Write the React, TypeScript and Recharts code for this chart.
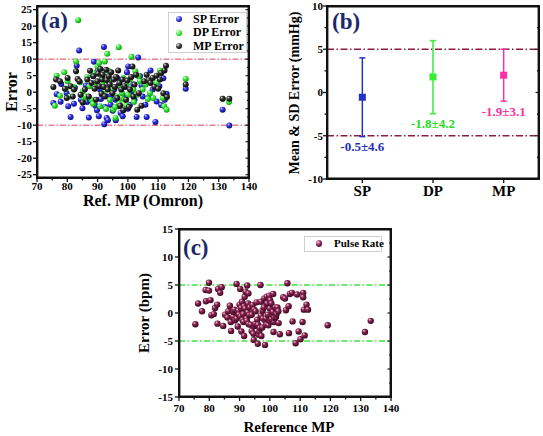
import React from 'react';
import { ScatterChart, Scatter, XAxis, YAxis, ReferenceLine, ErrorBar } from 'recharts';

const FONT = '"Liberation Serif", "Times New Roman", serif';
const INK = '#111111';

// ---------- Panel (a): errors vs Ref. MP (Omron) ----------
const spError: [number, number][] = [
  [75.4,-3.3],[76.5,-0.6],[77.8,-2.9],[78.0,2.5],[79.8,-0.3],[80.3,-4.3],[81.1,-7.5],[82.2,-3.5],[82.5,1.3],[83.1,8.0],
  [83.9,12.6],[84.5,-2.3],[85.0,-4.9],[86.1,2.0],[86.5,-3.0],[87.1,-7.7],[87.6,-2.3],[88.5,5.0],[88.8,9.2],[89.3,-4.1],
  [89.8,-5.5],[90.0,6.5],[90.4,-7.3],[90.8,0.8],[91.1,-2.1],[91.6,4.0],[92.1,13.7],[92.2,-9.7],[92.5,-4.5],[92.8,-1.2],
  [93.0,-7.8],[93.4,-8.5],[93.9,2.6],[94.3,-3.8],[94.5,-1.0],[95.0,-5.6],[95.5,0.8],[95.9,-2.3],[96.0,-8.5],[96.5,4.3],
  [96.9,-4.3],[97.0,2.0],[97.6,-6.3],[98.3,-7.3],[98.7,-1.3],[99.2,1.6],[99.7,6.0],[100.0,-5.0],[100.1,7.8],[100.7,-3.8],
  [101.2,0.2],[101.8,2.3],[102.2,-2.3],[102.9,-7.5],[103.4,10.5],[104.0,4.8],[104.5,2.0],[104.9,-1.3],[105.8,-3.8],[106.2,-7.5],
  [107.0,-1.5],[107.5,6.6],[108.2,0.8],[109.1,-9.0],[109.5,-2.8],[110.4,1.8],[111.0,-3.9],[111.7,4.2],[112.2,-2.3],[112.8,-0.5],
  [119.1,1.0],[131.3,-5.3],[133.5,-10.1],
];
const dpError: [number, number][] = [
  [75.9,-4.1],[76.5,5.0],[77.6,-1.1],[79.0,6.0],[79.5,1.0],[80.1,3.3],[80.9,-1.3],[82.0,1.6],[82.9,9.3],[83.6,21.8],
  [84.2,3.0],[85.1,0.3],[85.5,-2.0],[86.0,-1.3],[86.6,4.6],[87.3,1.8],[88.0,-2.3],[88.5,-3.5],[88.8,5.8],[89.5,2.8],
  [90.0,7.8],[90.5,8.8],[90.8,-4.3],[91.3,4.8],[91.5,2.5],[91.9,-0.3],[92.4,9.3],[92.8,-5.1],[93.2,11.6],[93.5,6.5],
  [93.7,3.3],[94.1,-2.3],[94.6,0.8],[95.2,-5.3],[95.8,-4.5],[95.9,-7.8],[96.3,-1.3],[97.0,13.6],[97.2,-3.5],[97.6,1.8],
  [97.8,-1.8],[98.1,-0.3],[98.5,4.3],[99.0,-2.3],[99.5,-4.0],[99.6,2.3],[100.1,-0.8],[100.7,3.8],[101.2,10.7],[101.8,0.8],
  [102.0,-3.0],[102.5,6.3],[103.1,-0.8],[103.5,4.8],[104.0,3.3],[104.9,0.8],[105.8,2.3],[106.6,-2.1],[107.3,-0.3],[108.4,-1.8],
  [109.5,2.8],[110.6,6.6],[111.5,-1.8],[112.0,-4.3],[112.8,-5.3],[119.1,4.0],[131.3,-2.0],[133.4,-3.0],
];
const mpError: [number, number][] = [
  [75.4,1.6],[76.3,3.8],[77.6,3.3],[79.2,1.0],[79.8,-1.8],[80.1,4.3],[81.1,1.8],[81.8,-1.3],[82.2,0.8],[82.9,6.3],
  [83.4,4.0],[84.0,3.3],[84.4,-0.8],[85.1,-3.1],[85.8,0.8],[86.6,3.8],[87.1,-1.3],[87.5,6.5],[88.0,2.8],[88.6,4.8],
  [89.0,1.0],[89.5,-2.3],[89.9,3.3],[90.2,5.6],[90.6,1.8],[90.9,7.0],[91.3,-0.5],[91.5,3.8],[91.7,5.3],[92.1,1.6],
  [92.4,-1.3],[92.8,6.8],[93.0,3.6],[93.4,0.8],[93.7,4.8],[94.0,2.3],[94.5,6.0],[94.9,-0.3],[95.3,3.8],[95.7,1.6],
  [96.1,4.6],[96.5,-1.8],[96.8,6.6],[97.2,2.8],[97.5,-4.1],[97.8,0.8],[98.2,3.8],[98.5,-5.5],[98.9,1.8],[99.4,-2.3],
  [99.8,3.5],[100.3,-4.5],[100.7,0.8],[101.1,4.6],[101.5,7.8],[101.8,-1.3],[102.2,2.3],[102.7,5.3],[103.1,-5.3],[103.6,-0.3],
  [104.5,-4.1],[105.4,3.3],[106.2,5.3],[106.9,3.6],[107.5,2.8],[108.2,4.3],[108.8,1.6],[109.5,5.0],[110.0,1.0],[110.6,3.8],
  [111.0,5.8],[111.7,-0.3],[112.1,6.6],[112.6,8.0],[112.9,-1.5],[119.1,2.3],[131.3,-2.0],[133.5,-2.0],
];

// ---------- Panel (b): mean & SD ----------
const bCategories = ['SP', 'DP', 'MP'];
const bMeans = [-0.55, 1.8, 2.0];
const bSdLow = [4.55, 4.25, 3.0];
const bSdHigh = [4.55, 4.2, 3.0];
const bLabels = ['-0.5±4.6', '-1.8±4.2', '-1.9±3.1'];
const bColors = ['#2431c8', '#33ee33', '#ff2fa6'];
const bLabelColors = ['#1f2fb8', '#26dd26', '#ff2fa0'];

// ---------- Panel (c): pulse rate ----------
const pulseRate: [number, number][] = [
  [75.4,-2.0],[76.3,1.7],[77.6,0.3],[78.8,4.1],[78.9,2.1],[79.9,5.4],[79.9,4.0],[80.4,2.3],[80.7,-0.4],[81.5,-0.2],
  [81.9,0.9],[82.6,1.5],[82.7,-1.9],[82.9,4.3],[83.6,3.6],[84.1,4.6],[84.6,-2.3],[85.2,-0.3],[86.0,-0.8],[86.3,0.3],
  [86.8,1.3],[87.1,-1.6],[87.2,-3.2],[87.9,-0.7],[88.0,0.2],[88.3,0.6],[88.5,-1.3],[89.0,5.2],[89.0,-1.0],[89.4,-2.4],
  [89.6,0.4],[89.8,-0.3],[90.0,1.5],[90.2,4.3],[90.4,-0.6],[90.5,0.9],[90.6,-3.3],[90.8,2.0],[91.0,-1.3],[91.2,-0.2],
  [91.3,-1.6],[91.5,-4.1],[91.5,1.2],[91.7,2.9],[91.8,0.8],[92.0,3.8],[92.3,-1.0],[92.4,-1.4],[92.5,4.9],[92.7,0.1],
  [92.8,1.7],[92.9,3.5],[93.0,-2.0],[93.2,-0.4],[93.4,1.0],[93.7,-2.1],[94.0,-0.3],[94.0,-3.2],[94.3,1.4],[94.6,-3.7],
  [94.7,-4.8],[94.8,0.6],[95.0,-2.3],[95.2,-1.9],[95.3,0.3],[95.6,1.9],[95.8,-1.2],[96.0,-5.5],[96.1,-2.1],[96.3,-3.9],
  [96.5,-3.3],[96.7,-2.7],[96.9,5.0],[97.0,-0.5],[97.1,2.0],[97.2,-4.1],[97.5,-2.6],[97.6,0.4],[97.7,-1.0],[98.0,1.0],
  [98.2,2.6],[98.4,-5.7],[98.5,-1.4],[98.7,-1.0],[98.9,-2.1],[99.0,2.9],[99.1,1.7],[99.3,-0.3],[99.5,-2.2],[99.8,3.1],
  [100.0,0.8],[100.1,2.3],[100.2,-1.5],[100.5,1.7],[100.5,-1.1],[100.9,-0.3],[101.0,0.2],[101.1,3.4],[101.2,-3.4],[101.4,-1.6],
  [101.5,-0.9],[101.8,1.0],[102.0,-0.7],[102.2,-0.2],[102.5,1.0],[102.8,0.3],[102.9,-1.8],[103.3,-3.8],[104.4,2.8],[105.0,2.6],
  [105.3,0.5],[105.8,5.3],[106.2,1.2],[106.3,-3.6],[106.6,3.4],[107.3,3.6],[107.5,-1.5],[108.5,-5.4],[109.0,3.3],[109.5,-3.3],
  [110.1,-4.7],[110.8,-1.6],[111.0,3.6],[111.0,2.8],[111.2,0.6],[111.5,-4.0],[112.1,1.5],[112.6,0.6],[119.1,-2.2],[131.4,-3.4],
  [133.3,-1.4],
];

const xTicksAC = [70, 75, 80, 85, 90, 95, 100, 105, 110, 115, 120, 125, 130, 135, 140];
const yTicksA = [-25, -20, -15, -10, -5, 0, 5, 10, 15, 20, 25];
const yTicksAInner = [-25, -22.5, -20, -17.5, -15, -12.5, -10, -7.5, -5, -2.5, 0, 2.5, 5, 7.5, 10, 12.5, 15, 17.5, 20, 22.5, 25];
const yTicksB = [-10, -7.5, -5, -2.5, 0, 2.5, 5, 7.5, 10];
const yTicksC = [-15, -10, -5, 0, 5, 10, 15];
const yTicksCInner = [-15, -12.5, -10, -7.5, -5, -2.5, 0, 2.5, 5, 7.5, 10, 12.5, 15];

const toPts = (arr: [number, number][]) => arr.map(([x, y]) => ({ x, y }));

const isMajor = (v: number, step: number) => Math.abs(v / step - Math.round(v / step)) < 1e-6;

const BottomTick = (props: any) => {
  const { x, y, payload, step = 10, dy = 12, size = 11, fmt } = props;
  const v = payload.value;
  const major = isMajor(v, step);
  return (
    <g>
      <line x1={x} x2={x} y1={y} y2={y + (major ? 4 : 2.5)} stroke={INK} strokeWidth={1.3} />
      {major && (
        <text x={x} y={y + dy} textAnchor="middle" fontFamily={FONT} fontWeight="bold" fontSize={size} fill="#000">
          {fmt ? fmt(v) : v}
        </text>
      )}
    </g>
  );
};
const TopTick = (props: any) => {
  const { x, y, payload, step = 10 } = props;
  const major = isMajor(payload.value, step);
  return <line x1={x} x2={x} y1={y} y2={y + (major ? 3.5 : 2)} stroke={INK} strokeWidth={1.1} />;
};
const LeftTick = (props: any) => {
  const { x, y, payload, step = 5, gap = 2, size = 11 } = props;
  const v = payload.value;
  const major = isMajor(v, step);
  return (
    <g>
      <line x1={x} x2={x - (major ? 4 : 2.5)} y1={y} y2={y} stroke={INK} strokeWidth={1.3} />
      {major && (
        <text x={x - 4 - gap} y={y + 3.8} textAnchor="end" fontFamily={FONT} fontWeight="bold" fontSize={size} fill="#000">
          {v}
        </text>
      )}
    </g>
  );
};
const RightTick = (props: any) => {
  const { x, y, payload, step = 5 } = props;
  const major = isMajor(payload.value, step);
  return <line x1={x} x2={x - (major ? 3.5 : 2)} y1={y} y2={y} stroke={INK} strokeWidth={1.1} />;
};

const Grad = ({ id, hi, mid, lo }: { id: string; hi: string; mid: string; lo: string }) => (
  <radialGradient id={id} cx="40%" cy="38%" r="62%" fx="32%" fy="28%">
    <stop offset="0%" stopColor={hi} />
    <stop offset="40%" stopColor={mid} />
    <stop offset="100%" stopColor={lo} />
  </radialGradient>
);

const sphere = (gid: string, r: number) => (props: any) =>
  props.cx == null ? <g /> : <circle cx={props.cx} cy={props.cy} r={r} fill={`url(#${gid})`} />;

const square = (color: string) => (props: any) =>
  props.cx == null ? <g /> : <rect x={props.cx - 3.5} y={props.cy - 3.5} width={7} height={7} fill={color} />;

const noShape = () => <g />;

const labelShape = (props: any) =>
  props.cx == null ? <g /> : (
    <text x={props.cx} y={props.cy} textAnchor="middle" dominantBaseline="central" fontFamily={FONT} fontWeight="bold" fontSize={13} fill={props.payload.color}>
      {props.payload.text}
    </text>
  );

const axisLineStyle = { stroke: INK, strokeWidth: 1.5 };
const axisCommon = { axisLine: axisLineStyle, tickLine: false, tickSize: 0, tickMargin: 0, allowDataOverflow: true, type: 'number' as const, interval: 0 as const };

// plot frame: a closed outline through the corners of the axis domains
const frameCorners = (xd: [number, number], yd: [number, number]) => [
  { x: xd[0], y: yd[0] }, { x: xd[1], y: yd[0] }, { x: xd[1], y: yd[1] }, { x: xd[0], y: yd[1] }, { x: xd[0], y: yd[0] },
];

const xDomAC: [number, number] = [70, 140];
const yDomA: [number, number] = [-26, 26.1];
const xDomB: [number, number] = [0.5, 3.5];
const yDomB: [number, number] = [-10, 10];
const yDomC: [number, number] = [-15, 15];

const frameLine = { stroke: INK, strokeWidth: 2.8 };

function PanelA() {
  const sp = toPts(spError), dp = toPts(dpError), mp = toPts(mpError);
  return (
    <ScatterChart width={260} height={215} margin={{ top: 5, right: 10, bottom: 7, left: 0 }}>
      <defs>
        <Grad id="gBlue" hi="#d6d8ff" mid="#3236ee" lo="#0b0b7a" />
        <Grad id="gGreen" hi="#f2fff2" mid="#3df03d" lo="#119a11" />
        <Grad id="gBlack" hi="#dddddd" mid="#333333" lo="#050505" />
      </defs>
      <XAxis xAxisId="b" dataKey="x" {...axisCommon} domain={xDomAC} ticks={xTicksAC} height={30} tick={<BottomTick step={10} dy={11.5} />} />
      <XAxis xAxisId="t" orientation="top" {...axisCommon} domain={xDomAC} ticks={xTicksAC} height={1} tick={<TopTick step={10} />} />
      <YAxis yAxisId="l" dataKey="y" {...axisCommon} domain={yDomA} ticks={yTicksA} width={37} tick={<LeftTick step={5} gap={1} />} />
      <YAxis yAxisId="r" orientation="right" {...axisCommon} domain={yDomA} ticks={yTicksAInner} width={1} tick={<RightTick step={5} />} />
      <ReferenceLine xAxisId="b" yAxisId="l" y={10} stroke="#de3c52" strokeWidth={1} strokeDasharray="6 2 1.5 2" />
      <ReferenceLine xAxisId="b" yAxisId="l" y={-10} stroke="#de3c52" strokeWidth={1} strokeDasharray="6 2 1.5 2" />
      <Scatter name="SP Error" xAxisId="b" yAxisId="l" data={sp} shape={sphere('gBlue', 3)} isAnimationActive={false} />
      <Scatter name="DP Error" xAxisId="b" yAxisId="l" data={dp} shape={sphere('gGreen', 3)} isAnimationActive={false} />
      <Scatter name="MP Error" xAxisId="b" yAxisId="l" data={mp} shape={sphere('gBlack', 3)} isAnimationActive={false} />
      <Scatter xAxisId="b" yAxisId="l" data={frameCorners(xDomAC, yDomA)} line={frameLine} shape={noShape} isAnimationActive={false} />
    </ScatterChart>
  );
}

function PanelB() {
  const series = bCategories.map((c, i) => ({
    name: c,
    color: bColors[i],
    data: [{ x: i + 1, y: bMeans[i], err: [bSdLow[i], bSdHigh[i]] }],
    label: [{ x: i + 1, y: bMeans[i] - bSdLow[i] - 1.15, text: bLabels[i], color: bLabelColors[i] }],
  }));
  return (
    <ScatterChart width={281} height={215} margin={{ top: 5, right: 3, bottom: 6, left: 0 }}>
      <XAxis xAxisId="b" dataKey="x" {...axisCommon} domain={xDomB} ticks={[1, 2, 3]} height={30}
        tick={<BottomTick step={1} dy={17} size={15} fmt={(v: number) => bCategories[v - 1]} />} />
      <XAxis xAxisId="t" orientation="top" {...axisCommon} domain={xDomB} ticks={[1, 2, 3]} height={1} tick={<TopTick step={1} />} />
      <YAxis yAxisId="l" dataKey="y" {...axisCommon} domain={yDomB} ticks={yTicksB} width={65} tick={<LeftTick step={5} gap={0} />} />
      <YAxis yAxisId="r" orientation="right" {...axisCommon} domain={yDomB} ticks={yTicksB} width={1} tick={<RightTick step={5} />} />
      <ReferenceLine xAxisId="b" yAxisId="l" y={5} stroke="#8e1c3c" strokeWidth={1.5} strokeDasharray="7 2.5 1.5 2.5" />
      <ReferenceLine xAxisId="b" yAxisId="l" y={-5} stroke="#8e1c3c" strokeWidth={1.5} strokeDasharray="7 2.5 1.5 2.5" />
      {series.map((s) => (
        <Scatter key={s.name} name={s.name} xAxisId="b" yAxisId="l" data={s.data} shape={square(s.color)} isAnimationActive={false}>
          <ErrorBar dataKey="err" direction="y" width={3} stroke={s.color} strokeWidth={1.5} />
        </Scatter>
      ))}
      {series.map((s) => (
        <Scatter key={s.name + '-lbl'} xAxisId="b" yAxisId="l" data={s.label} shape={labelShape} isAnimationActive={false} />
      ))}
      <Scatter xAxisId="b" yAxisId="l" data={frameCorners(xDomB, yDomB)} line={frameLine} shape={noShape} isAnimationActive={false} />
    </ScatterChart>
  );
}

function PanelC() {
  const pts = toPts(pulseRate);
  return (
    <ScatterChart width={270} height={221} margin={{ top: 13, right: 8, bottom: 9, left: 0 }}>
      <defs>
        <Grad id="gMaroon" hi="#f3c8d6" mid="#8a2552" lo="#3a0820" />
      </defs>
      <XAxis xAxisId="b" dataKey="x" {...axisCommon} domain={xDomAC} ticks={xTicksAC} height={30} tick={<BottomTick step={10} dy={15} />} />
      <XAxis xAxisId="t" orientation="top" {...axisCommon} domain={xDomAC} ticks={xTicksAC} height={1} tick={<TopTick step={10} />} />
      <YAxis yAxisId="l" dataKey="y" {...axisCommon} domain={yDomC} ticks={yTicksC} width={49} tick={<LeftTick step={5} gap={2} />} />
      <YAxis yAxisId="r" orientation="right" {...axisCommon} domain={yDomC} ticks={yTicksCInner} width={1} tick={<RightTick step={5} />} />
      <ReferenceLine xAxisId="b" yAxisId="l" y={5} stroke="#3ee33e" strokeWidth={1.5} strokeDasharray="6 2.5 1.5 2.5" />
      <ReferenceLine xAxisId="b" yAxisId="l" y={-5} stroke="#3ee33e" strokeWidth={1.5} strokeDasharray="6 2.5 1.5 2.5" />
      <Scatter name="Pulse Rate" xAxisId="b" yAxisId="l" data={pts} shape={sphere('gMaroon', 3.2)} isAnimationActive={false} />
      <Scatter xAxisId="b" yAxisId="l" data={frameCorners(xDomAC, yDomC)} line={frameLine} shape={noShape} isAnimationActive={false} />
    </ScatterChart>
  );
}

// ---------- HTML overlay: titles, panel tags, legends, plot frames ----------
const sphereCss = (hi: string, mid: string, lo: string) => `radial-gradient(circle at 33% 30%, ${hi} 0%, ${mid} 45%, ${lo} 100%)`;
const legendA = [
  { name: 'SP Error', bg: sphereCss('#d6d8ff', '#3236ee', '#0b0b7a') },
  { name: 'DP Error', bg: sphereCss('#f2fff2', '#3df03d', '#119a11') },
  { name: 'MP Error', bg: sphereCss('#dddddd', '#333333', '#050505') },
];
const pulseBg = sphereCss('#f3c8d6', '#8a2552', '#3a0820');

const baseText: React.CSSProperties = { position: 'absolute', fontFamily: FONT, fontWeight: 'bold', lineHeight: 1, whiteSpace: 'nowrap', color: '#000' };

const TextAt = ({ x, baseline, size, color, center, children }: any) => (
  <div style={{ ...baseText, left: x, top: baseline - 0.837 * size, fontSize: size, color: color || '#000', transform: center ? 'translateX(-50%)' : undefined }}>
    {children}
  </div>
);
const VText = ({ cx, cy, size, children }: any) => (
  <div style={{ ...baseText, left: cx, top: cy, fontSize: size, transform: 'translate(-50%, -50%) rotate(-90deg)' }}>{children}</div>
);
const Dot = ({ cx, cy, r, bg }: any) => (
  <div style={{ position: 'absolute', left: cx - r, top: cy - r, width: 2 * r, height: 2 * r, borderRadius: '50%', background: bg }} />
);
const Box = ({ l, t, r, b }: any) => (
  <div style={{ position: 'absolute', left: l - 0.75, top: t - 0.75, width: r - l + 1.5, height: b - t + 1.5, border: `1.5px solid ${INK}`, boxSizing: 'border-box', pointerEvents: 'none' }} />
);

function Overlay() {
  const navy = '#1b2a6b';
  return (
    <div style={{ position: 'absolute', left: 0, top: 0, width: 543, height: 436, pointerEvents: 'none' }}>
      {/* plot frames */}
      <Box l={37} t={6} r={249} b={178} />
      <Box l={327} t={6} r={539} b={179} />
      <Box l={179} t={229} r={391} b={397} />
      {/* panel (a) */}
      <TextAt x={41} baseline={28} size={23} color={navy}>(a)</TextAt>
      <VText cx={12} cy={92} size={16}>Error</VText>
      <TextAt x={143} baseline={206} size={16} center>Ref. MP (Omron)</TextAt>
      <div style={{ position: 'absolute', left: 168, top: 12, width: 79, height: 41, background: '#fff', border: '1px solid #d0d0d0', boxSizing: 'border-box' }} />
      {legendA.map((l, i) => (
        <React.Fragment key={l.name}>
          <Dot cx={179} cy={19 + i * 13.5} r={3} bg={l.bg} />
          <TextAt x={193} baseline={23 + i * 13.5} size={12}>{l.name}</TextAt>
        </React.Fragment>
      ))}
      {/* panel (b) */}
      <TextAt x={332} baseline={29} size={23} color={navy}>(b)</TextAt>
      <VText cx={295} cy={93} size={14}>Mean &amp; SD Error (mmHg)</VText>
      {/* panel (c) */}
      <TextAt x={183} baseline={255} size={23} color={navy}>(c)</TextAt>
      <VText cx={144} cy={313} size={15}>Error (bpm)</VText>
      <TextAt x={289} baseline={433} size={15} center>Reference MP</TextAt>
      <div style={{ position: 'absolute', left: 304, top: 236, width: 78, height: 16, background: '#fff', border: '1px solid #d0d0d0', boxSizing: 'border-box' }} />
      <Dot cx={319} cy={243.5} r={3.2} bg={pulseBg} />
      <TextAt x={334} baseline={247.5} size={11}>Pulse Rate</TextAt>
    </div>
  );
}

export default function App() {
  return (
    <div style={{ position: 'absolute', left: 0, top: 0, width: 543, height: 436, background: '#fff', overflow: 'hidden' }}>
      <div style={{ position: 'absolute', left: 0, top: 0 }}><PanelA /></div>
      <div style={{ position: 'absolute', left: 262, top: 0 }}><PanelB /></div>
      <div style={{ position: 'absolute', left: 130, top: 215 }}><PanelC /></div>
      <Overlay />
    </div>
  );
}
